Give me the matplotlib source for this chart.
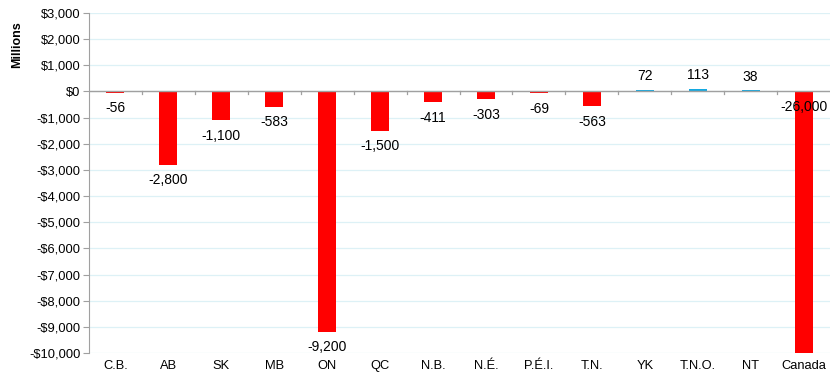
import matplotlib
matplotlib.use("Agg")
import matplotlib.pyplot as plt
from matplotlib.ticker import FuncFormatter, FixedLocator

plt.rcParams['font.family'] = ['Liberation Sans', 'DejaVu Sans']

regions = ["C.B.", "AB", "SK", "MB", "ON", "QC", "N.B.", "N.É.", "P.É.I.",
           "T.N.", "YK", "T.N.O.", "NT", "Canada"]
values = [-56, -2800, -1100, -583, -9200, -1500, -411, -303, -69,
          -563, 72, 113, 38, -26000]

y_min, y_max = -10000, 3000

fig = plt.figure(figsize=(8.3, 3.78), dpi=100)
ax = fig.add_axes([89/830, 25/378, 741/830, 340/378])

x = list(range(len(regions)))
colors = ["#FF0000" if v < 0 else "#14A9E1" for v in values]
ax.bar(x, values, width=0.34, color=colors, zorder=3)

ax.set_xlim(-0.5, len(regions) - 0.5)
ax.set_ylim(y_min, y_max)

def money(v, _pos=None):
    v = int(round(v))
    return f"-${abs(v):,}" if v < 0 else f"${v:,}"

ax.yaxis.set_major_locator(FixedLocator(range(y_min, y_max + 1, 1000)))
ax.yaxis.set_major_formatter(FuncFormatter(money))
ax.grid(axis='y', color='#DDF1F6', linewidth=0.9, zorder=0)
ax.tick_params(axis='y', labelsize=9.3, length=4, color='#A0A0A0', pad=2)

ax.set_xticks(x)
ax.set_xticklabels(regions)
ax.tick_params(axis='x', labelsize=9.3, length=0, pad=5)

for side in ('top', 'right', 'bottom'):
    ax.spines[side].set_visible(False)
ax.spines['left'].set_color('#A0A0A0')

# zero baseline with category separator ticks
ax.axhline(0, color='#A0A0A0', linewidth=1.0, zorder=4)
for b in range(1, len(regions)):
    ax.plot([b - 0.5, b - 0.5], [0, -110], color='#A0A0A0', linewidth=0.9,
            zorder=4, clip_on=False)

ax.set_ylabel("Millions", fontsize=9, fontweight='bold')
ax.yaxis.set_label_coords(-0.089, 0.906)

for xi, v in zip(x, values):
    label = f"{v:,}"
    if v >= 0:
        ax.annotate(label, (xi, v), xytext=(0, 5), textcoords='offset points',
                    ha='center', va='bottom', fontsize=10, zorder=5)
    else:
        end = v if v >= y_min else 0
        ax.annotate(label, (xi, end), xytext=(0, -6), textcoords='offset points',
                    ha='center', va='top', fontsize=10, zorder=5)

fig.savefig("out.png", dpi=100)
